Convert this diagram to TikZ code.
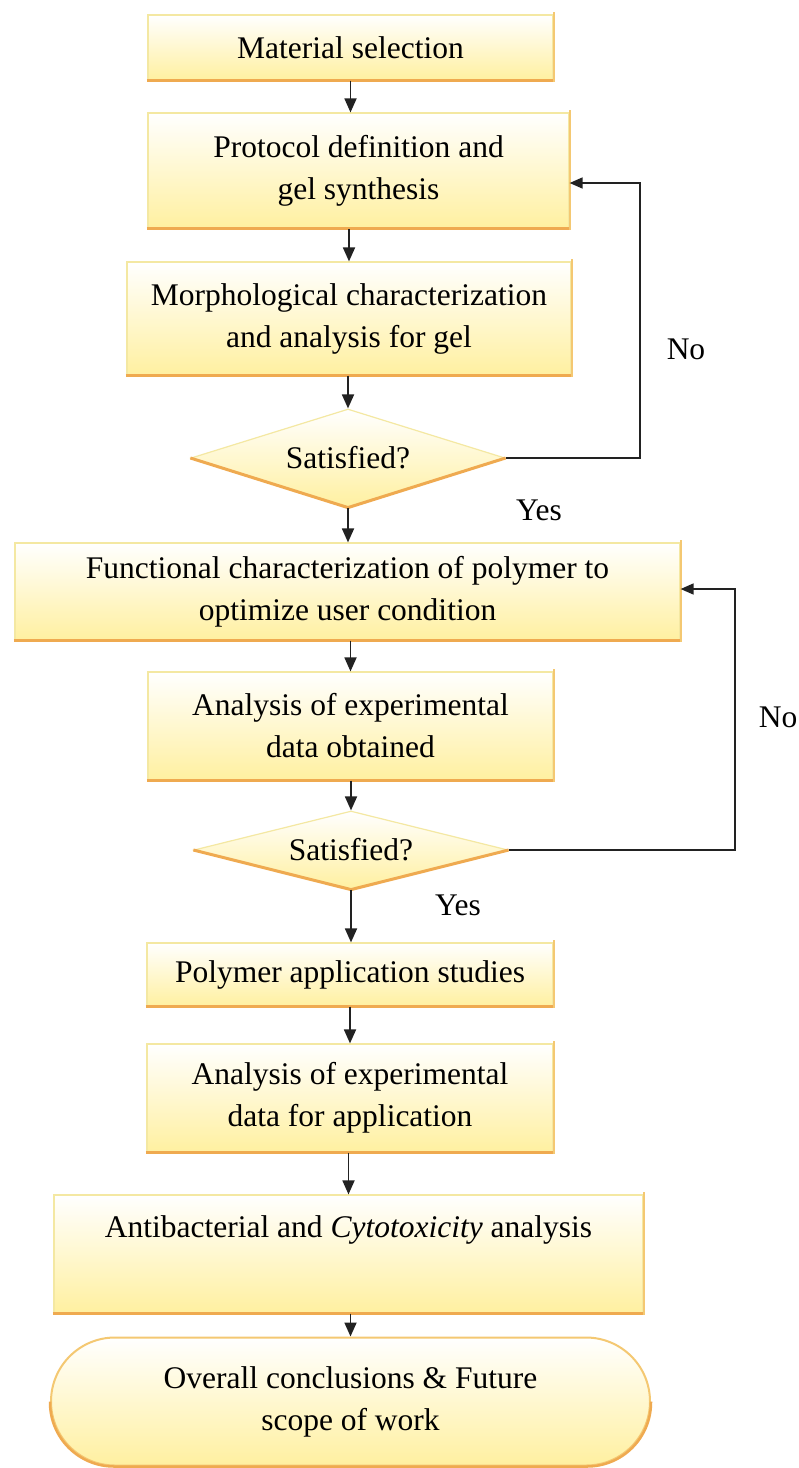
\documentclass[tikz,border=0pt]{standalone}
\usepackage{fontspec}
\setmainfont{Liberation Serif}
\usetikzlibrary{shapes.geometric,arrows.meta,calc}
\definecolor{fillbot}{HTML}{FFF0A0}
\definecolor{edgetop}{HTML}{F4E8A2}
\definecolor{edgebot}{HTML}{EFAA50}
\definecolor{edgeside}{HTML}{F4C872}
\definecolor{linec}{HTML}{222222}
\newcommand\boxshadow[1]{%
  \draw[botedge] ([xshift=-0.6pt]#1.south west) -- ([xshift=1pt]#1.south east);
  \draw[sideedge] ([yshift=-1pt]#1.south east) -- ([yshift=2pt]#1.north east);}
\begin{document}
\begin{tikzpicture}[x=1pt,y=-1pt,
  font=\fontsize{31.5}{42}\selectfont,
  procbox/.style={rectangle, draw=edgetop, line width=1.2pt, top color=white, bottom color=fillbot, inner sep=0pt, align=center},
  decision/.style={diamond, draw=edgetop, line width=1.2pt, top color=white, bottom color=fillbot, inner sep=0pt, aspect=3.2},
  terminal/.style={rectangle, rounded corners=64pt, draw=edgeside, line width=2pt, top color=white, bottom color=fillbot, inner sep=0pt, align=center},
  botedge/.style={draw=edgebot, line width=3pt},
  sideedge/.style={draw=edgeside, line width=2pt},
  flow/.style={draw=linec, line width=1.8pt, -{Triangle[length=14pt,width=12pt]}},
  back/.style={draw=linec, line width=1.6pt, -{Triangle[length=13pt,width=11pt]}},
  lbl/.style={inner sep=0pt}
]
\fill[white] (0,0) rectangle (799,1468);
\useasboundingbox (0,0) rectangle (799,1468);

\node[procbox, minimum width=405pt, minimum height=65pt] (b1) at (350.5,47.5) {Material selection};
\node[procbox, minimum width=421pt, minimum height=115pt] (b2) at (358.5,170.5) {Protocol definition and\\gel synthesis};
\node[procbox, minimum width=444pt, minimum height=113pt] (b3) at (349,318.5) {Morphological characterization\\and analysis for gel};
\node[decision, minimum width=314pt, minimum height=98pt] (d1) at (348,458) {Satisfied?};
\node[procbox, minimum width=665pt, minimum height=97pt] (b5) at (347.5,591.5) {Functional characterization of polymer to\\optimize user condition};
\node[procbox, minimum width=405pt, minimum height=108pt] (b6) at (350.5,726) {Analysis of experimental\\data obtained};
\node[decision, minimum width=314pt, minimum height=78pt] (d2) at (351,850) {Satisfied?};
\node[procbox, minimum width=406pt, minimum height=63pt] (b7) at (350,974.5) {Polymer application studies};
\node[procbox, minimum width=406pt, minimum height=108pt] (b8) at (350,1098) {Analysis of experimental\\data for application};
\node[procbox, minimum width=589pt, minimum height=118pt] (b9) at (348.5,1254) {Antibacterial and \textit{Cytotoxicity} analysis\\\strut};
\node[terminal, minimum width=599pt, minimum height=128pt] (t) at (350.5,1401.5) {Overall conclusions \& Future\\scope of work};

\boxshadow{b1}
\boxshadow{b2}
\boxshadow{b3}
\boxshadow{b5}
\boxshadow{b6}
\boxshadow{b7}
\boxshadow{b8}
\boxshadow{b9}
\draw[botedge] (d1.west) -- (d1.south) -- (d1.east);
\draw[botedge] (d2.west) -- (d2.south) -- (d2.east);
\draw[botedge, line width=2.5pt, rounded corners=64pt] (t.west) |- (t.south) -| (t.east);

\node[lbl] (no1) at (686,349) {No};
\node[lbl] (yes1) at (539,510) {Yes};
\node[lbl] (no2) at (778,717) {No};
\node[lbl] (yes2) at (458,905) {Yes};

\draw[flow] (b1.south) -- (b1.south |- b2.north);
\draw[flow] (b3.north |- b2.south) -- (b3.north);
\draw[flow] (d1.north |- b3.south) -- (d1.north);
\draw[flow] (d1.south) -- (d1.south |- b5.north);
\draw[flow] (b6.north |- b5.south) -- (b6.north);
\draw[flow] (d2.north |- b6.south) -- (d2.north);
\draw[flow] (d2.south) -- (d2.south |- b7.north);
\draw[flow] (b7.south) -- (b7.south |- b8.north);
\draw[flow] (b9.north |- b8.south) -- (b9.north);
\draw[flow] (t.north |- b9.south) -- (t.north);

\coordinate (c1) at (640,183);
\draw[back] (d1.east) -| (c1) -- (b2.east |- c1);
\coordinate (c2) at (735,589);
\draw[back] (d2.east) -| (c2) -- (b5.east |- c2);
\end{tikzpicture}
\end{document}
